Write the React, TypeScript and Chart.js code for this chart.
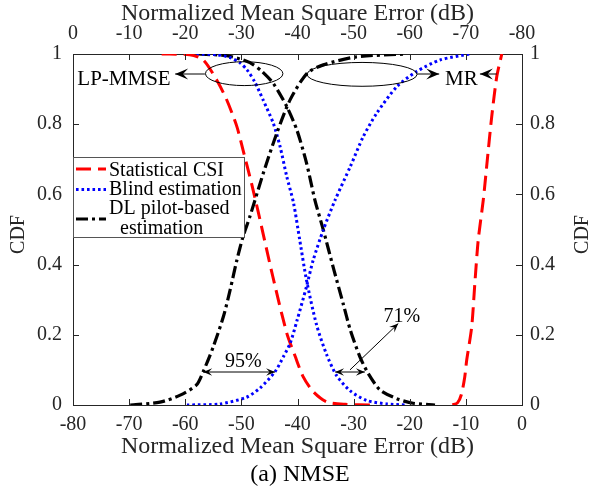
import React, { useEffect, useRef } from 'react';
import { Chart, registerables } from 'chart.js';

Chart.register(...registerables);

const SERIF = "'Liberation Serif', 'Times New Roman', Times, serif";
const AXIS = '#262626';

// ticks
const xTicks = [-80, -70, -60, -50, -40, -30, -20, -10, 0];
const yTicks = [0, 0.2, 0.4, 0.6, 0.8, 1];

// texts
const axisTitle = 'Normalized Mean Square Error (dB)';
const yTitle = 'CDF';
const caption = '(a) NMSE';
const legendLines = [['Statistical CSI'], ['Blind estimation'], ['DL pilot-based', 'estimation']];

// MR group (bottom axis, dB)
const mrStatX = [-12.4, -11.5, -10.8, -10.2, -9.85, -8.96, -8.4, -7.8, -6.9, -6.3, -5.4, -4.5, -3.6];
const mrStatY = [0, 0.006, 0.03, 0.08, 0.128, 0.223, 0.347, 0.47, 0.584, 0.679, 0.821, 0.935, 1];
const mrBlindX = [-59.7, -53.8, -49.1, -46.7, -44.0, -42.5, -41.3, -40.1, -38.4, -37.2, -35.4, -33.3, -30.6, -28.3, -25.9, -22.3, -18.8, -14.6, -9.3];
const mrBlindY = [0, 0.003, 0.022, 0.048, 0.095, 0.138, 0.176, 0.24, 0.337, 0.413, 0.499, 0.584, 0.679, 0.764, 0.831, 0.907, 0.95, 0.983, 1];
const mrDLX = [-69.8, -64.5, -60.9, -58.0, -56.8, -55.0, -53.2, -52.0, -50.8, -49.7, -48.5, -46.1, -43.7, -41.3, -38.3, -35.4, -29.5, -20.5];
const mrDLY = [0, 0.008, 0.028, 0.057, 0.095, 0.166, 0.252, 0.328, 0.413, 0.48, 0.536, 0.66, 0.774, 0.87, 0.945, 0.969, 0.992, 1];

// LP-MMSE group (top axis, dB)
const lpStatX = [-15.8, -20.8, -23.2, -25.6, -27.4, -29.2, -30.3, -31.8, -33.0, -35.6, -38.1, -39.6, -41.0, -42.8, -45.2, -48.5, -53.3];
const lpStatY = [1, 0.998, 0.983, 0.926, 0.869, 0.793, 0.726, 0.632, 0.55, 0.366, 0.204, 0.138, 0.081, 0.038, 0.009, 0.002, 0];
const lpBlindX = [-22.0, -25.6, -28.0, -29.75, -31.0, -32.4, -33.85, -35.7, -36.9, -38.1, -39.3, -40.4, -41.6, -43.4, -45.2, -47.0, -49.4, -52.3, -55.9, -59.5];
const lpBlindY = [1, 0.998, 0.99, 0.975, 0.955, 0.92, 0.87, 0.802, 0.736, 0.65, 0.575, 0.47, 0.356, 0.228, 0.143, 0.083, 0.04, 0.013, 0.003, 0];
const lpDLX = [-22.3, -27.4, -30.3, -32.1, -33.7, -35.7, -38.1, -39.9, -41.6, -43.1, -44.6, -46.4, -48.2, -49.4, -51.1, -52.6, -54.7, -57.7, -60.6, -64.5];
const lpDLY = [1, 0.995, 0.983, 0.97, 0.95, 0.916, 0.85, 0.783, 0.69, 0.584, 0.499, 0.39, 0.285, 0.214, 0.138, 0.09, 0.043, 0.018, 0.005, 0];

const RED = '#ff0000';
const BLUE = '#0000ff';
const BLACK = '#000000';
const styles = [
  { color: RED, dash: [15, 7], width: 3 },
  { color: BLUE, dash: [2.6, 2.9], width: 3 },
  { color: BLACK, dash: [12, 4, 3, 4], width: 3.2 },
];

const zip = (xs: number[], ys: number[]) => xs.map((x, i) => ({ x, y: ys[i] }));

// annotation anchors in bottom-axis / CDF coordinates
const ellipseSpecs = [
  { cx: -49.5, cy: 0.944, rx: 6.9, ry: 0.034 },
  { cx: -28.5, cy: 0.942, rx: 9.8, ry: 0.034 },
];
const arrowSpecs = [
  { x1: -56.5, y1: 0.943, x2: -61.8, y2: 0.943, both: false, big: true },
  { x1: -18.7, y1: 0.943, x2: -14.75, y2: 0.943, both: false, big: true },
  { x1: -4.5, y1: 0.943, x2: -7.5, y2: 0.943, both: false, big: true },
  { x1: -56.8, y1: 0.094, x2: -44.0, y2: 0.094, both: true, big: false },
  { x1: -33.3, y1: 0.094, x2: -28.0, y2: 0.094, both: true, big: false },
  { x1: -30.65, y1: 0.1, x2: -22.05, y2: 0.232, both: false, big: false },
];
const textSpecs = [
  { text: 'LP-MMSE', x: -62.6, y: 0.912, align: 'right', size: 21 },
  { text: 'MR', x: -13.7, y: 0.912, align: 'left', size: 21 },
  { text: '95%', x: -49.66, y: 0.107, align: 'center', size: 20 },
  { text: '71%', x: -21.4, y: 0.237, align: 'center', size: 20 },
];

function head(ctx: CanvasRenderingContext2D, x1: number, y1: number, x2: number, y2: number, L: number, W: number) {
  const ang = Math.atan2(y2 - y1, x2 - x1);
  ctx.save();
  ctx.translate(x2, y2);
  ctx.rotate(ang);
  ctx.beginPath();
  ctx.moveTo(0, 0);
  ctx.lineTo(-L, W / 2);
  ctx.lineTo(-L * 0.6, 0);
  ctx.lineTo(-L, -W / 2);
  ctx.closePath();
  ctx.fill();
  ctx.restore();
}

const deco = {
  id: 'deco',
  afterDraw(chart: any) {
    const { ctx, chartArea: a, scales } = chart;
    const X = scales.x;
    const Y = scales.y;
    const T = 6;
    ctx.save();
    // inward tick marks
    ctx.strokeStyle = AXIS;
    ctx.lineWidth = 1;
    ctx.setLineDash([]);
    ctx.beginPath();
    xTicks.forEach((v) => {
      const pb = Math.round(X.getPixelForValue(v)) + 0.5;
      ctx.moveTo(pb, a.bottom);
      ctx.lineTo(pb, a.bottom - T);
      const pt = Math.round(scales.x2.getPixelForValue(-80 - v)) + 0.5;
      ctx.moveTo(pt, a.top);
      ctx.lineTo(pt, a.top + T);
    });
    yTicks.forEach((v) => {
      const p = Math.round(Y.getPixelForValue(v)) + 0.5;
      ctx.moveTo(a.left, p);
      ctx.lineTo(a.left + T, p);
      ctx.moveTo(a.right, p);
      ctx.lineTo(a.right - T, p);
    });
    ctx.stroke();

    // y titles
    ctx.fillStyle = AXIS;
    ctx.font = `20px ${SERIF}`;
    ctx.textAlign = 'center';
    ctx.textBaseline = 'middle';
    const midY = (a.top + a.bottom) / 2 + 5;
    [19, 583].forEach((tx) => {
      ctx.save();
      ctx.translate(tx, midY);
      ctx.rotate(-Math.PI / 2);
      ctx.fillText(yTitle, 0, 0);
      ctx.restore();
    });

    // legend
    const lx = a.left;
    const ly = a.top + 103;
    ctx.fillStyle = '#ffffff';
    ctx.fillRect(lx, ly, 171, 80);
    ctx.strokeStyle = '#555555';
    ctx.lineWidth = 1;
    ctx.strokeRect(lx + 0.5, ly + 0.5, 171, 80);
    const sampleY = [12, 32.5, 62];
    const baseY = [[18.5], [38], [56.5, 76.5]];
    const textX = [[36], [36], [36, 47]];
    styles.forEach((s, i) => {
      ctx.strokeStyle = s.color;
      ctx.lineWidth = s.width;
      ctx.setLineDash(s.dash);
      ctx.beginPath();
      ctx.moveTo(lx + 3, ly + sampleY[i]);
      ctx.lineTo(lx + 33, ly + sampleY[i]);
      ctx.stroke();
    });
    ctx.setLineDash([]);
    ctx.fillStyle = '#000000';
    ctx.textAlign = 'left';
    ctx.textBaseline = 'alphabetic';
    legendLines.forEach((lines, i) => {
      lines.forEach((t, j) => ctx.fillText(t, lx + textX[i][j], ly + baseY[i][j]));
    });

    // ellipses
    ctx.strokeStyle = '#000000';
    ctx.lineWidth = 1;
    ellipseSpecs.forEach((e) => {
      const cx = X.getPixelForValue(e.cx);
      const cy = Y.getPixelForValue(e.cy);
      const rx = Math.abs(X.getPixelForValue(e.cx + e.rx) - cx);
      const ry = Math.abs(Y.getPixelForValue(e.cy + e.ry) - cy);
      ctx.beginPath();
      ctx.ellipse(cx, cy, rx, ry, 0, 0, Math.PI * 2);
      ctx.stroke();
    });

    // arrows
    ctx.fillStyle = '#000000';
    arrowSpecs.forEach((r) => {
      const x1 = X.getPixelForValue(r.x1);
      const y1 = Y.getPixelForValue(r.y1);
      const x2 = X.getPixelForValue(r.x2);
      const y2 = Y.getPixelForValue(r.y2);
      ctx.beginPath();
      ctx.moveTo(x1, y1);
      ctx.lineTo(x2, y2);
      ctx.stroke();
      const L = r.big ? 13 : 9;
      const W = r.big ? 11 : 7.5;
      head(ctx, x1, y1, x2, y2, L, W);
      if (r.both) head(ctx, x2, y2, x1, y1, L, W);
    });

    // texts
    textSpecs.forEach((t) => {
      ctx.font = `${t.size}px ${SERIF}`;
      ctx.textAlign = t.align;
      ctx.textBaseline = 'alphabetic';
      ctx.fillText(t.text, X.getPixelForValue(t.x), Y.getPixelForValue(t.y));
    });
    ctx.restore();
  },
};

const tickFont = { family: SERIF, size: 20 };
const titleFont = { family: SERIF, size: 24, lineHeight: 1 };

export default function App() {
  const ref = useRef<HTMLCanvasElement>(null);
  useEffect(() => {
    const canvas = ref.current;
    if (!canvas) return;
    const mk = (label: string, xs: number[], ys: number[], s: any, axis: string) => ({
      label,
      data: zip(xs, ys),
      xAxisID: axis,
      yAxisID: 'y',
      borderColor: s.color,
      borderWidth: s.width,
      borderDash: s.dash,
      pointRadius: 0,
      fill: false,
      tension: 0.25,
    });
    const fmt = (v: number) => String(Math.round(v * 10) / 10);
    const chart = new Chart(canvas, {
      type: 'line',
      data: {
        datasets: [
          mk('Statistical CSI (MR)', mrStatX, mrStatY, styles[0], 'x'),
          mk('Blind estimation (MR)', mrBlindX, mrBlindY, styles[1], 'x'),
          mk('DL pilot-based estimation (MR)', mrDLX, mrDLY, styles[2], 'x'),
          mk('Statistical CSI (LP-MMSE)', lpStatX, lpStatY, styles[0], 'x2'),
          mk('Blind estimation (LP-MMSE)', lpBlindX, lpBlindY, styles[1], 'x2'),
          mk('DL pilot-based estimation (LP-MMSE)', lpDLX, lpDLY, styles[2], 'x2'),
        ],
      },
      options: {
        responsive: false,
        animation: false,
        events: [],
        layout: { padding: 0 },
        plugins: {
          legend: { display: false },
          tooltip: { enabled: false },
          title: {
            display: true,
            text: caption,
            position: 'bottom',
            color: '#000000',
            font: { family: SERIF, size: 24, weight: 'normal', lineHeight: 1 },
            padding: { top: 4, bottom: 4 },
          },
        },
        scales: {
          x: {
            type: 'linear',
            position: 'bottom',
            min: -80,
            max: 0,
            afterBuildTicks: (s: any) => { s.ticks = xTicks.map((v) => ({ value: v })); },
            afterFit: (s: any) => { s.height = 54; },
            grid: { display: false, drawTicks: false },
            border: { display: true, color: AXIS, width: 1 },
            ticks: { color: AXIS, font: tickFont, padding: 8, maxRotation: 0, autoSkip: false, callback: (v: any) => fmt(v) },
            title: { display: true, text: axisTitle, color: AXIS, font: titleFont, padding: { top: 0, bottom: 0 } },
          },
          x2: {
            type: 'linear',
            position: 'top',
            min: -80,
            max: 0,
            reverse: true,
            afterBuildTicks: (s: any) => { s.ticks = xTicks.map((v) => ({ value: v })); },
            afterFit: (s: any) => { s.height = 54; },
            grid: { display: false, drawTicks: false },
            border: { display: true, color: AXIS, width: 1 },
            ticks: { color: AXIS, font: tickFont, padding: 8, maxRotation: 0, autoSkip: false, callback: (v: any) => fmt(v) },
            title: { display: true, text: axisTitle, color: AXIS, font: titleFont, padding: { top: 2, bottom: 0 } },
          },
          y: {
            type: 'linear',
            position: 'left',
            min: 0,
            max: 1,
            afterBuildTicks: (s: any) => { s.ticks = yTicks.map((v) => ({ value: v })); },
            afterFit: (s: any) => { s.width = 73; },
            grid: { display: false, drawTicks: false },
            border: { display: true, color: AXIS, width: 1 },
            ticks: { color: AXIS, font: tickFont, padding: 11, callback: (v: any) => fmt(v) },
          },
          y2: {
            type: 'linear',
            position: 'right',
            min: 0,
            max: 1,
            afterBuildTicks: (s: any) => { s.ticks = yTicks.map((v) => ({ value: v })); },
            afterFit: (s: any) => { s.width = 78; },
            grid: { display: false, drawTicks: false },
            border: { display: true, color: AXIS, width: 1 },
            ticks: { color: AXIS, font: tickFont, padding: 8, callback: (v: any) => fmt(v) },
          },
        },
      } as any,
      plugins: [deco],
    });
    return () => chart.destroy();
  }, []);
  return (
    <div style={{ position: 'fixed', left: 0, top: 0, width: 600, height: 491, background: '#ffffff' }}>
      <canvas ref={ref} width={600} height={491} style={{ display: 'block' }} />
    </div>
  );
}
